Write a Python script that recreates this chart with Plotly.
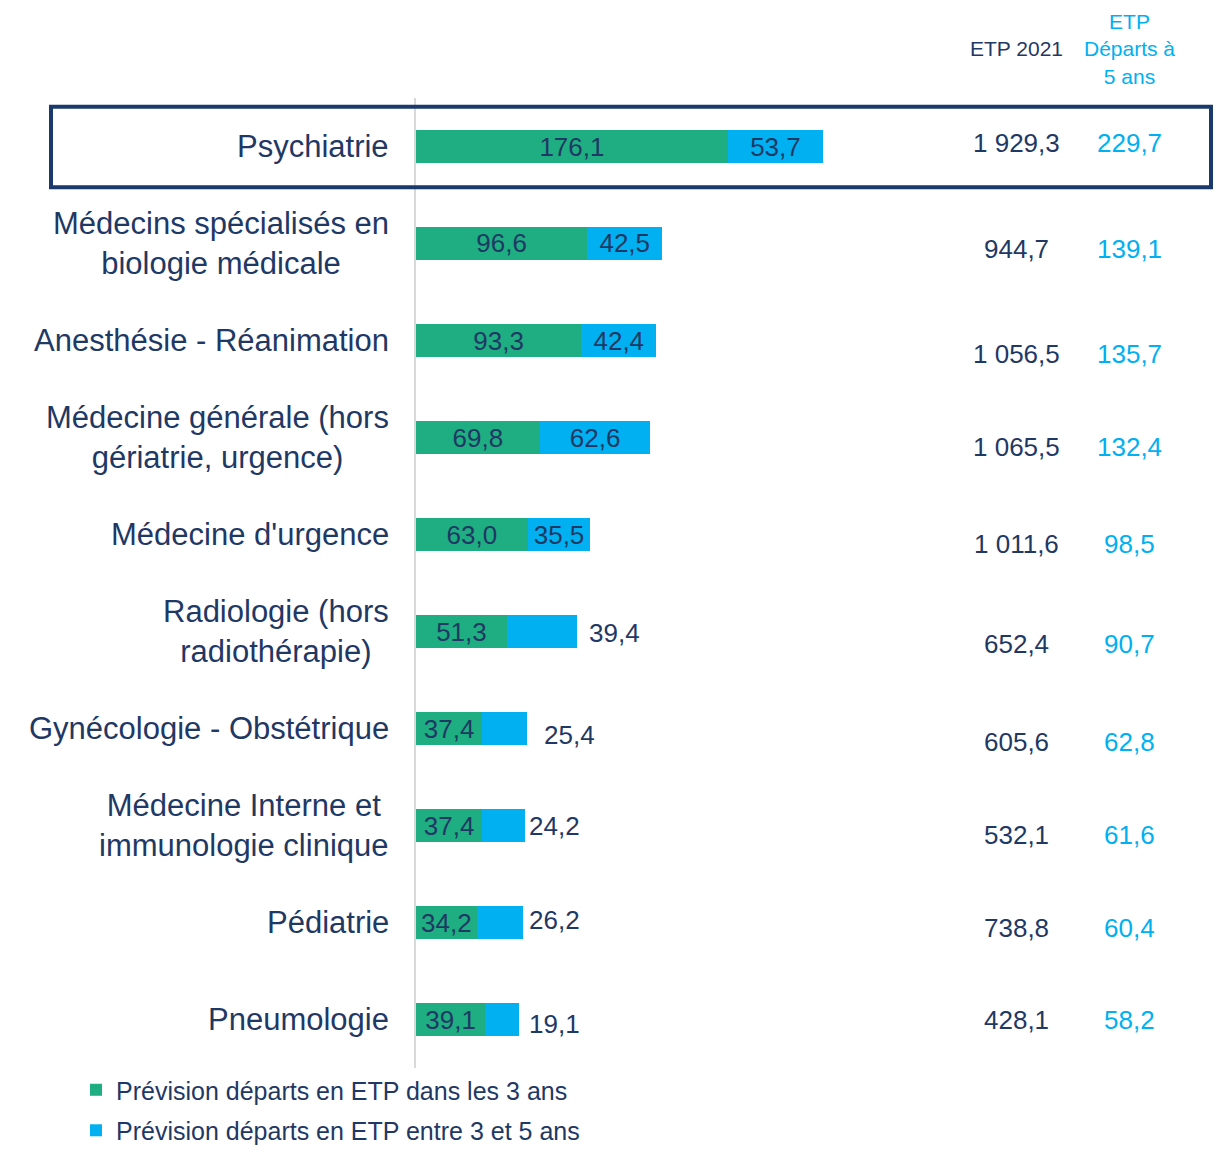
import plotly.graph_objects as go

# Data (ETP = équivalent temps plein)
specialites = [
    "Psychiatrie",
    "Médecins spécialisés en<br>biologie médicale",
    "Anesthésie - Réanimation",
    "Médecine générale (hors<br>gériatrie, urgence)",
    "Médecine d'urgence",
    "Radiologie (hors<br>radiothérapie)",
    "Gynécologie - Obstétrique",
    "Médecine Interne et<br>immunologie clinique",
    "Pédiatrie",
    "Pneumologie",
]
departs_3ans = [176.1, 96.6, 93.3, 69.8, 63.0, 51.3, 37.4, 37.4, 34.2, 39.1]
departs_3_5ans = [53.7, 42.5, 42.4, 62.6, 35.5, 39.4, 25.4, 24.2, 26.2, 19.1]
etp_2021 = [1929.3, 944.7, 1056.5, 1065.5, 1011.6, 652.4, 605.6, 532.1, 738.8, 428.1]
etp_departs_5ans = [229.7, 139.1, 135.7, 132.4, 98.5, 90.7, 62.8, 61.6, 60.4, 58.2]

NAVY = "#1F3864"
GREEN = "#1FAE81"
BLUE = "#00B0F0"
FONT = "Liberation Sans, Arial, sans-serif"

# the page keeps its 8px body margin: size the figure so nothing overflows
W, H = 1205, 1137
L, T, B = 408, 89.5, 76.5
PW = W - L
PX_PER_UNIT = 1.771
XMAX = PW / PX_PER_UNIT


def fr(v):
    return f"{v:,.1f}".replace(",", " ").replace(".", ",")


def px(x_page):
    """page pixel column -> paper x"""
    return (x_page - 8 - L) / PW


n_inside = 5  # blue labels sit outside the bar once the segment gets short
blue_tpl = ["%{x:.1f}"] * n_inside + [""] * (len(specialites) - n_inside)
out_xshift = [10, 15, 2, 4, 8]
out_yshift = [-1, -6, 0, 3, -4]
# small vertical nudges of the right-hand columns (px, as in the source slide)
col_shift = [4, -5, -13, -9, -9, -12, -13, -9, -5, 0]

fig = go.Figure()
fig.add_trace(go.Bar(
    y=specialites, x=departs_3ans, orientation="h",
    name="Prévision départs en ETP dans les 3 ans",
    marker=dict(color=GREEN, line=dict(width=0)),
    texttemplate="%{x:.1f}", textposition="inside", insidetextanchor="middle",
    constraintext="none",
    textfont=dict(size=26, color=NAVY, family=FONT),
    legendgroup="a",
))
fig.add_trace(go.Bar(
    y=specialites, x=departs_3_5ans, orientation="h",
    name="Prévision départs en ETP entre 3 et 5 ans",
    marker=dict(color=BLUE, line=dict(width=0)),
    texttemplate=blue_tpl, textposition="inside", insidetextanchor="middle",
    constraintext="none",
    textfont=dict(size=26, color=NAVY, family=FONT),
    legendgroup="b",
))

# outside labels of the short blue segments
for i in range(n_inside, len(specialites)):
    fig.add_annotation(
        x=departs_3ans[i] + departs_3_5ans[i], xref="x", y=specialites[i], yref="y",
        text=fr(departs_3_5ans[i]), showarrow=False, xanchor="left",
        xshift=out_xshift[i - n_inside], yshift=out_yshift[i - n_inside],
        font=dict(size=26, color=NAVY, family=FONT),
    )

# category labels (centred multi-line text, right-aligned block)
for cat in specialites:
    fig.add_annotation(
        x=px(391), xref="paper", y=cat, yref="y",
        text=cat, showarrow=False, xanchor="right", yanchor="middle",
        align="center", font=dict(size=31, color=NAVY, family=FONT),
    )

# right-hand columns
x_etp, x_dep = px(1016), px(1129)
for cat, e, d, s in zip(specialites, etp_2021, etp_departs_5ans, col_shift):
    fig.add_annotation(x=x_etp, xref="paper", y=cat, yref="y", yshift=s,
                       text=fr(e), showarrow=False, xanchor="center",
                       font=dict(size=26, color=NAVY, family=FONT))
    fig.add_annotation(x=x_dep, xref="paper", y=cat, yref="y", yshift=s,
                       text=fr(d), showarrow=False, xanchor="center",
                       font=dict(size=26, color=BLUE, family=FONT))

y_head = (H - B - (48 - 8)) / (H - B - T)
fig.add_annotation(x=x_etp, xref="paper", y=y_head, yref="paper",
                   text="ETP 2021", showarrow=False,
                   xanchor="center", yanchor="middle",
                   font=dict(size=21, color=NAVY, family=FONT))
fig.add_annotation(x=x_dep, xref="paper", y=y_head, yref="paper",
                   text="ETP<br>Départs à<br>5 ans", showarrow=False,
                   xanchor="center", yanchor="middle", align="center",
                   font=dict(size=21, color=BLUE, family=FONT))

# highlight frame around the first row
fig.add_shape(type="rect", xref="paper", yref="y",
              x0=px(51), x1=px(1211), y0=-0.41, y1=0.42,
              line=dict(color="#1B3A6B", width=4), layer="above")

fig.update_layout(
    width=W, height=H, autosize=False,
    barmode="stack", bargap=0.65,
    separators=", ",
    margin=dict(l=L, r=0, t=T, b=B, autoexpand=False),
    paper_bgcolor="white", plot_bgcolor="white",
    font=dict(family=FONT, color=NAVY),
    showlegend=True,
    legend=dict(
        orientation="v", x=px(76), xanchor="left",
        y=0.001, yanchor="top", tracegroupgap=5,
        font=dict(size=25, color=NAVY, family=FONT),
        bgcolor="rgba(0,0,0,0)",
    ),
)
fig.update_xaxes(range=[0, XMAX], visible=False, fixedrange=True)
fig.update_yaxes(
    autorange="reversed", showticklabels=False, ticks="",
    showline=True, linecolor="#D9D9D9", linewidth=2,
    showgrid=False, zeroline=False,
)

fig.write_html("out.html")
